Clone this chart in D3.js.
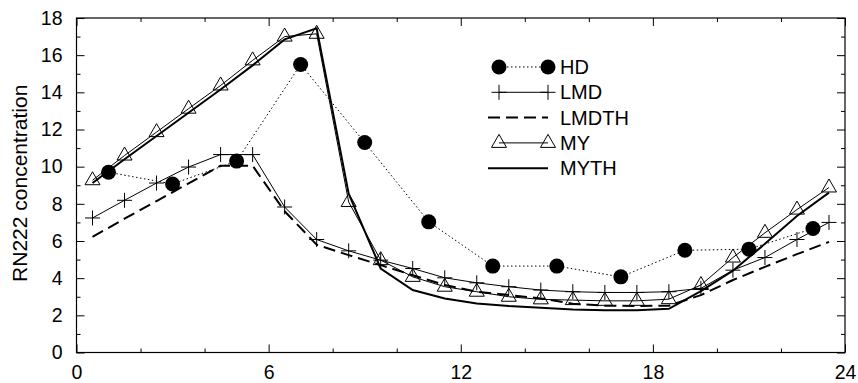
<!DOCTYPE html>
<html>
<head>
<meta charset="utf-8">
<script src="https://cdn.jsdelivr.net/npm/d3@7"></script>
<style>
  body { margin: 0; background: #fff; }
  svg text { font-family: "Liberation Sans", Arial, Helvetica, sans-serif; fill: #000; }
  .axis path { display: none; }
  .axis line { stroke: #000; stroke-width: 1; }
</style>
</head>
<body>
<div id="chart"></div>
<script>
// hours of the day for the model series and for the HD measurements
const hours = [0.5, 1.5, 2.5, 3.5, 4.5, 5.5, 6.5, 7.5, 8.5, 9.5, 10.5, 11.5,
  12.5, 13.5, 14.5, 15.5, 16.5, 17.5, 18.5, 19.5, 20.5, 21.5, 22.5, 23.5];
const hdHours = [1, 3, 5, 7, 9, 11, 13, 15, 17, 19, 21, 23];

// series values (RN222 concentration)
const hdValues = [9.7, 9.07, 10.3, 15.5, 11.3, 7.03, 4.65, 4.65, 4.07, 5.5, 5.56, 6.67];
const lmdValues = [7.24, 8.19, 9.12, 9.98, 10.65, 10.65, 7.83, 6.08, 5.47, 4.97, 4.52, 4.02,
  3.75, 3.54, 3.36, 3.27, 3.23, 3.23, 3.27, 3.45, 4.43, 5.11, 6.08, 7.0];
const lmdthValues = [6.22, 7.2, 8.15, 9.1, 10.05, 10.05, 7.6, 5.8, 5.24, 4.7, 4.16, 3.63,
  3.27, 3.09, 2.91, 2.62, 2.52, 2.5, 2.52, 3.09, 3.9, 4.61, 5.29, 5.95];
const myValues = [9.27, 10.6, 11.86, 13.12, 14.37, 15.72, 17.0, 17.15, 8.1, 4.97, 4.07, 3.54,
  3.27, 3.0, 2.86, 2.82, 2.78, 2.78, 2.87, 3.63, 5.11, 6.44, 7.69, 8.88];
const mythValues = [9.12, 10.4, 11.65, 12.9, 14.15, 15.45, 16.85, 17.45, 8.55, 4.52, 3.36, 2.91,
  2.64, 2.5, 2.41, 2.32, 2.28, 2.28, 2.35, 3.3, 4.4, 5.85, 7.35, 8.6];

// tick labels
const xMajor = [0, 6, 12, 18, 24];
const xMinor = [2, 4, 8, 10, 14, 16, 20, 22];
const yMajor = [0, 2, 4, 6, 8, 10, 12, 14, 16, 18];
const yMinor = [1, 3, 5, 7, 9, 11, 13, 15, 17];
const legendNames = ["HD", "LMD", "LMDTH", "MY", "MYTH"];

const svgWidth = 858;
const svgHeight = 383;
const margin = { top: 18, right: 13, bottom: 30.5, left: 76.5 };
const width = svgWidth - margin.left - margin.right;
const height = svgHeight - margin.top - margin.bottom;

const svg = d3.select("#chart").append("svg")
  .attr("width", svgWidth)
  .attr("height", svgHeight);

const g = svg.append("g")
  .attr("transform", `translate(${margin.left}, ${margin.top})`);

const x = d3.scaleLinear().domain([0, 24]).range([0, width]);
const y = d3.scaleLinear().domain([0, 18]).range([height, 0]);

// axes: ticks point inward on all four sides
g.append("g").attr("class", "axis")
  .attr("transform", `translate(0, ${height})`)
  .call(d3.axisBottom(x).tickValues(xMajor).tickSize(-8).tickPadding(13).tickFormat(d3.format("d")))
  .selectAll("text").style("font-size", "19.5px");
g.append("g").attr("class", "axis")
  .attr("transform", `translate(0, ${height})`)
  .call(d3.axisBottom(x).tickValues(xMinor).tickSize(-4).tickFormat(""));
g.append("g").attr("class", "axis")
  .call(d3.axisTop(x).tickValues(xMajor).tickSize(-8).tickFormat(""));
g.append("g").attr("class", "axis")
  .call(d3.axisTop(x).tickValues(xMinor).tickSize(-4).tickFormat(""));

g.append("g").attr("class", "axis")
  .call(d3.axisLeft(y).tickValues(yMajor).tickSize(-8).tickPadding(14).tickFormat(d3.format("d")))
  .selectAll("text").style("font-size", "19.5px");
g.append("g").attr("class", "axis")
  .call(d3.axisLeft(y).tickValues(yMinor).tickSize(-4).tickFormat(""));
g.append("g").attr("class", "axis")
  .attr("transform", `translate(${width}, 0)`)
  .call(d3.axisRight(y).tickValues(yMajor).tickSize(-8).tickFormat(""));
g.append("g").attr("class", "axis")
  .attr("transform", `translate(${width}, 0)`)
  .call(d3.axisRight(y).tickValues(yMinor).tickSize(-4).tickFormat(""));

g.append("rect")
  .attr("width", width)
  .attr("height", height)
  .attr("fill", "none")
  .attr("stroke", "#000")
  .attr("stroke-width", 1.2);

// y axis label
svg.append("text")
  .attr("transform", `translate(27, ${margin.top + height / 2 - 2}) rotate(-90)`)
  .attr("text-anchor", "middle")
  .style("font-size", "21px")
  .text("RN222 concentration");

// series styles
const series = [
  { name: "HD", xs: hdHours, ys: hdValues, width: 1, dash: "1.5,2.5", marker: "circle" },
  { name: "LMD", xs: hours, ys: lmdValues, width: 1, dash: null, marker: "plus" },
  { name: "LMDTH", xs: hours, ys: lmdthValues, width: 2, dash: "12,6", marker: null },
  { name: "MY", xs: hours, ys: myValues, width: 1, dash: null, marker: "triangle" },
  { name: "MYTH", xs: hours, ys: mythValues, width: 2, dash: null, marker: null }
];

const line = d3.line().x(d => x(d[0])).y(d => y(d[1]));

function drawMarker(sel, type) {
  if (type === "circle") {
    sel.append("circle").attr("r", 7.5).attr("fill", "#000");
  } else if (type === "plus") {
    sel.append("path").attr("d", "M-7.5,0H7.5M0,-7.5V7.5")
      .attr("stroke", "#000").attr("stroke-width", 1).attr("fill", "none");
  } else if (type === "triangle") {
    sel.append("path").attr("d", "M0,-8.5L7.5,4.5L-7.5,4.5Z")
      .attr("stroke", "#000").attr("stroke-width", 1).attr("fill", "none");
  }
}

// draw thick lines first, then thin lines and markers
const order = ["MYTH", "LMDTH", "MY", "LMD", "HD"];
order.forEach(name => {
  const s = series.find(d => d.name === name);
  const pts = s.xs.map((h, i) => [h, s.ys[i]]);
  g.append("path")
    .datum(pts)
    .attr("d", line)
    .attr("fill", "none")
    .attr("stroke", "#000")
    .attr("stroke-width", s.width)
    .attr("stroke-dasharray", s.dash);
  if (s.marker) {
    g.selectAll(null)
      .data(pts)
      .enter()
      .append("g")
      .attr("transform", d => `translate(${x(d[0])}, ${y(d[1])})`)
      .each(function() { drawMarker(d3.select(this), s.marker); });
  }
});

// legend
const legend = svg.append("g").attr("transform", "translate(499, 67)");
series.forEach((s, i) => {
  const row = legend.append("g").attr("transform", `translate(0, ${i * 25.3})`);
  row.append("line")
    .attr("x1", s.marker ? 0 : -11).attr("x2", 49).attr("y1", 0).attr("y2", 0)
    .attr("stroke", "#000")
    .attr("stroke-width", s.width)
    .attr("stroke-dasharray", s.dash);
  if (s.marker) {
    row.append("g").call(sel => drawMarker(sel, s.marker));
    row.append("g").attr("transform", "translate(49, 0)").call(sel => drawMarker(sel, s.marker));
  }
  row.append("text")
    .attr("x", 61)
    .attr("y", 7)
    .style("font-size", "20px")
    .text(legendNames[i]);
});
</script>
</body>
</html>
